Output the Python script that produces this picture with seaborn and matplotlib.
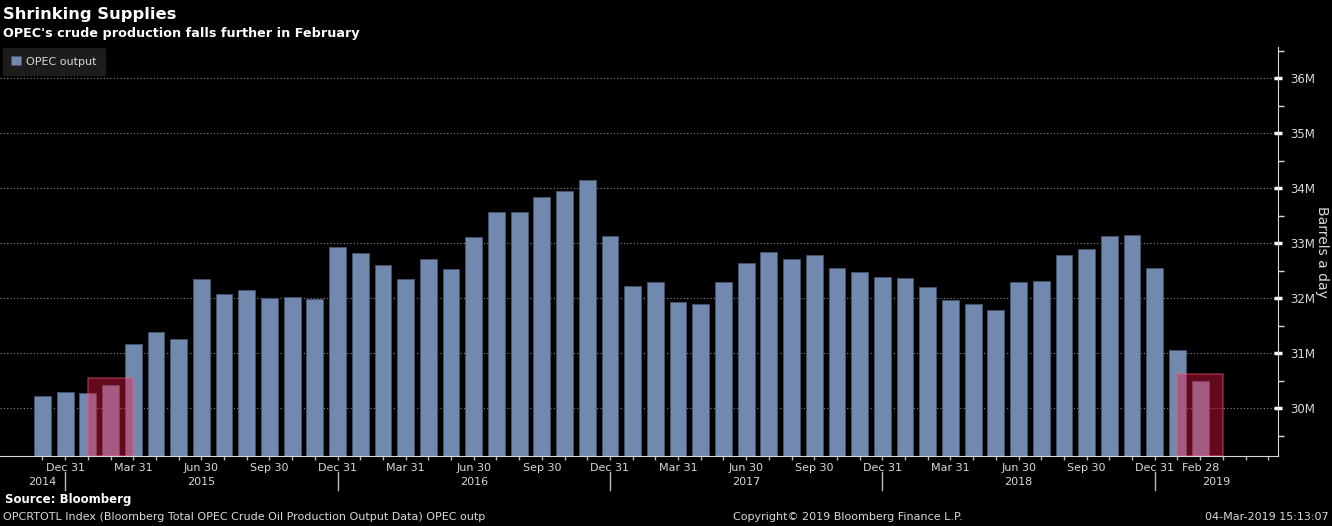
import matplotlib
matplotlib.use("Agg")
import matplotlib.pyplot as plt
from matplotlib.patches import Rectangle
from matplotlib.transforms import blended_transform_factory
import numpy as np
import pandas as pd
import seaborn as sns

# monthly OPEC crude output, Nov 2014 .. Feb 2019 (millions of barrels a day)
months = pd.date_range("2014-11-30", "2019-02-28", freq="ME")
output = [30.23, 30.30, 30.28, 30.42, 31.17, 31.38, 31.26, 32.35, 32.08, 32.15,
          32.01, 32.03, 31.99, 32.93, 32.83, 32.60, 32.35, 32.71, 32.53, 33.11,
          33.57, 33.57, 33.84, 33.95, 34.15, 33.13, 32.22, 32.30, 31.94, 31.89,
          32.30, 32.65, 32.85, 32.71, 32.78, 32.55, 32.47, 32.39, 32.37, 32.21,
          31.97, 31.90, 31.79, 32.29, 32.31, 32.79, 32.90, 33.13, 33.15, 32.55,
          31.05, 30.50]
highlight = ["2015-02", "2019-02"]
ytick_vals = [30, 31, 32, 33, 34, 35, 36]
years = ["2014", "2015", "2016", "2017", "2018", "2019"]

df = pd.DataFrame({"month": months.strftime("%Y-%m"), "output": output})

BG = "black"
BAR = "#7189ae"
TXT = "#d8d8d8"

fig = plt.figure(figsize=(13.32, 5.26), dpi=100, facecolor=BG)
ax = fig.add_axes([0.0, 0.1331, 0.9595, 0.7775])
ax.set_facecolor(BG)

sns.barplot(data=df, x="month", y="output", color=BAR, width=0.74,
            edgecolor="#44536b", linewidth=0.7, saturation=1, ax=ax,
            label="OPEC output")

ymin, ymax = 29.13, 36.57
ax.set_xlim(-1.87, 54.43)
ax.set_ylim(ymin, ymax)

# red highlight boxes around the chosen months
for m in highlight:
    i = df.index[df["month"] == m][0]
    top = df.loc[i, "output"] + 0.12
    ax.add_patch(Rectangle((i - 1, ymin), 2, top - ymin, facecolor="#ec1a44",
                           alpha=0.42, edgecolor="#ff6080", linewidth=1.2,
                           zorder=5))

# spines
for s in ["top", "left"]:
    ax.spines[s].set_visible(False)
ax.spines["right"].set_color(TXT)
ax.spines["bottom"].set_color(TXT)

# y axis on the right
ax.yaxis.tick_right()
ax.set_yticks(ytick_vals)
ax.set_yticklabels([f"{v}M" for v in ytick_vals], color=TXT, fontsize=8.5)
ax.set_yticks(np.arange(29.5, 36.6, 1.0), minor=True)
ax.tick_params(axis="y", which="major", direction="inout", length=6, width=2.5,
               color="white", pad=6)
ax.tick_params(axis="y", which="minor", direction="out", length=4, width=1,
               color=TXT)
ax.set_ylabel("")
ax.text(1.034, 0.5, "Barrels a day", transform=ax.transAxes, rotation=-90,
        ha="center", va="center", color=TXT, fontsize=10)

# gridlines
ax.grid(axis="y", which="major", color="#8a8a8a", linestyle=(0, (1, 2)),
        linewidth=0.8)
ax.set_axisbelow(True)

# x axis: quarter-end labels and monthly ticks
qpos = [i for i, d in enumerate(months) if d.month in (3, 6, 9, 12)] + [len(months) - 1]
qlab = [months[i].strftime("%b ") + str(months[i].day) for i in qpos]
ax.set_xticks(qpos)
ax.set_xticklabels(qlab, color=TXT, fontsize=8)
ax.set_xticks(range(0, 55), minor=True)
ax.tick_params(axis="x", which="both", direction="out", length=3, width=1,
               color="#bbbbbb", pad=2)
ax.set_xlabel("")

trans = blended_transform_factory(ax.transData, ax.transAxes)
year_x = [0, 7, 19, 31, 43, 51.7]
for x, y in zip(year_x, years):
    ax.text(x, -0.064, y, transform=trans, ha="center", va="center",
            color=TXT, fontsize=8)
for i, d in enumerate(months):
    if d.month == 12:
        ax.plot([i, i], [-0.040, -0.084], transform=trans, color="#bbbbbb",
                linewidth=1, clip_on=False)

# legend
leg = ax.legend(loc="upper left", bbox_to_anchor=(0.002, 0.998), borderaxespad=0,
                frameon=True, fontsize=8, handlelength=0.9, handleheight=0.9,
                handletextpad=0.5, borderpad=0.75)
leg.get_frame().set_facecolor("#1c1c1c")
leg.get_frame().set_edgecolor("#1c1c1c")
leg.get_frame().set_alpha(1)
for t in leg.get_texts():
    t.set_color(TXT)

# titles and footer
fig.text(0.002, 1 - 14 / 526, "Shrinking Supplies", color="white",
         fontsize=11.8, fontweight="bold", va="center")
fig.text(0.002, 1 - 33 / 526, "OPEC's crude production falls further in February",
         color="white", fontsize=9.2, fontweight="bold", va="center")
fig.text(5 / 1332, 1 - 500 / 526, "Source: Bloomberg", color="white",
         fontsize=8.5, fontweight="bold", va="center")
fig.text(3 / 1332, 1 - 517 / 526,
         "OPCRTOTL Index (Bloomberg Total OPEC Crude Oil Production Output Data) OPEC outp",
         color=TXT, fontsize=8, va="center")
fig.text(733 / 1332, 1 - 517 / 526, "Copyright\u00a9 2019 Bloomberg Finance L.P.",
         color=TXT, fontsize=8, va="center")
fig.text(1329 / 1332, 1 - 517 / 526, "04-Mar-2019 15:13:07", color=TXT,
         fontsize=8, va="center", ha="right")

fig.savefig("out.png", dpi=100, facecolor=BG)
